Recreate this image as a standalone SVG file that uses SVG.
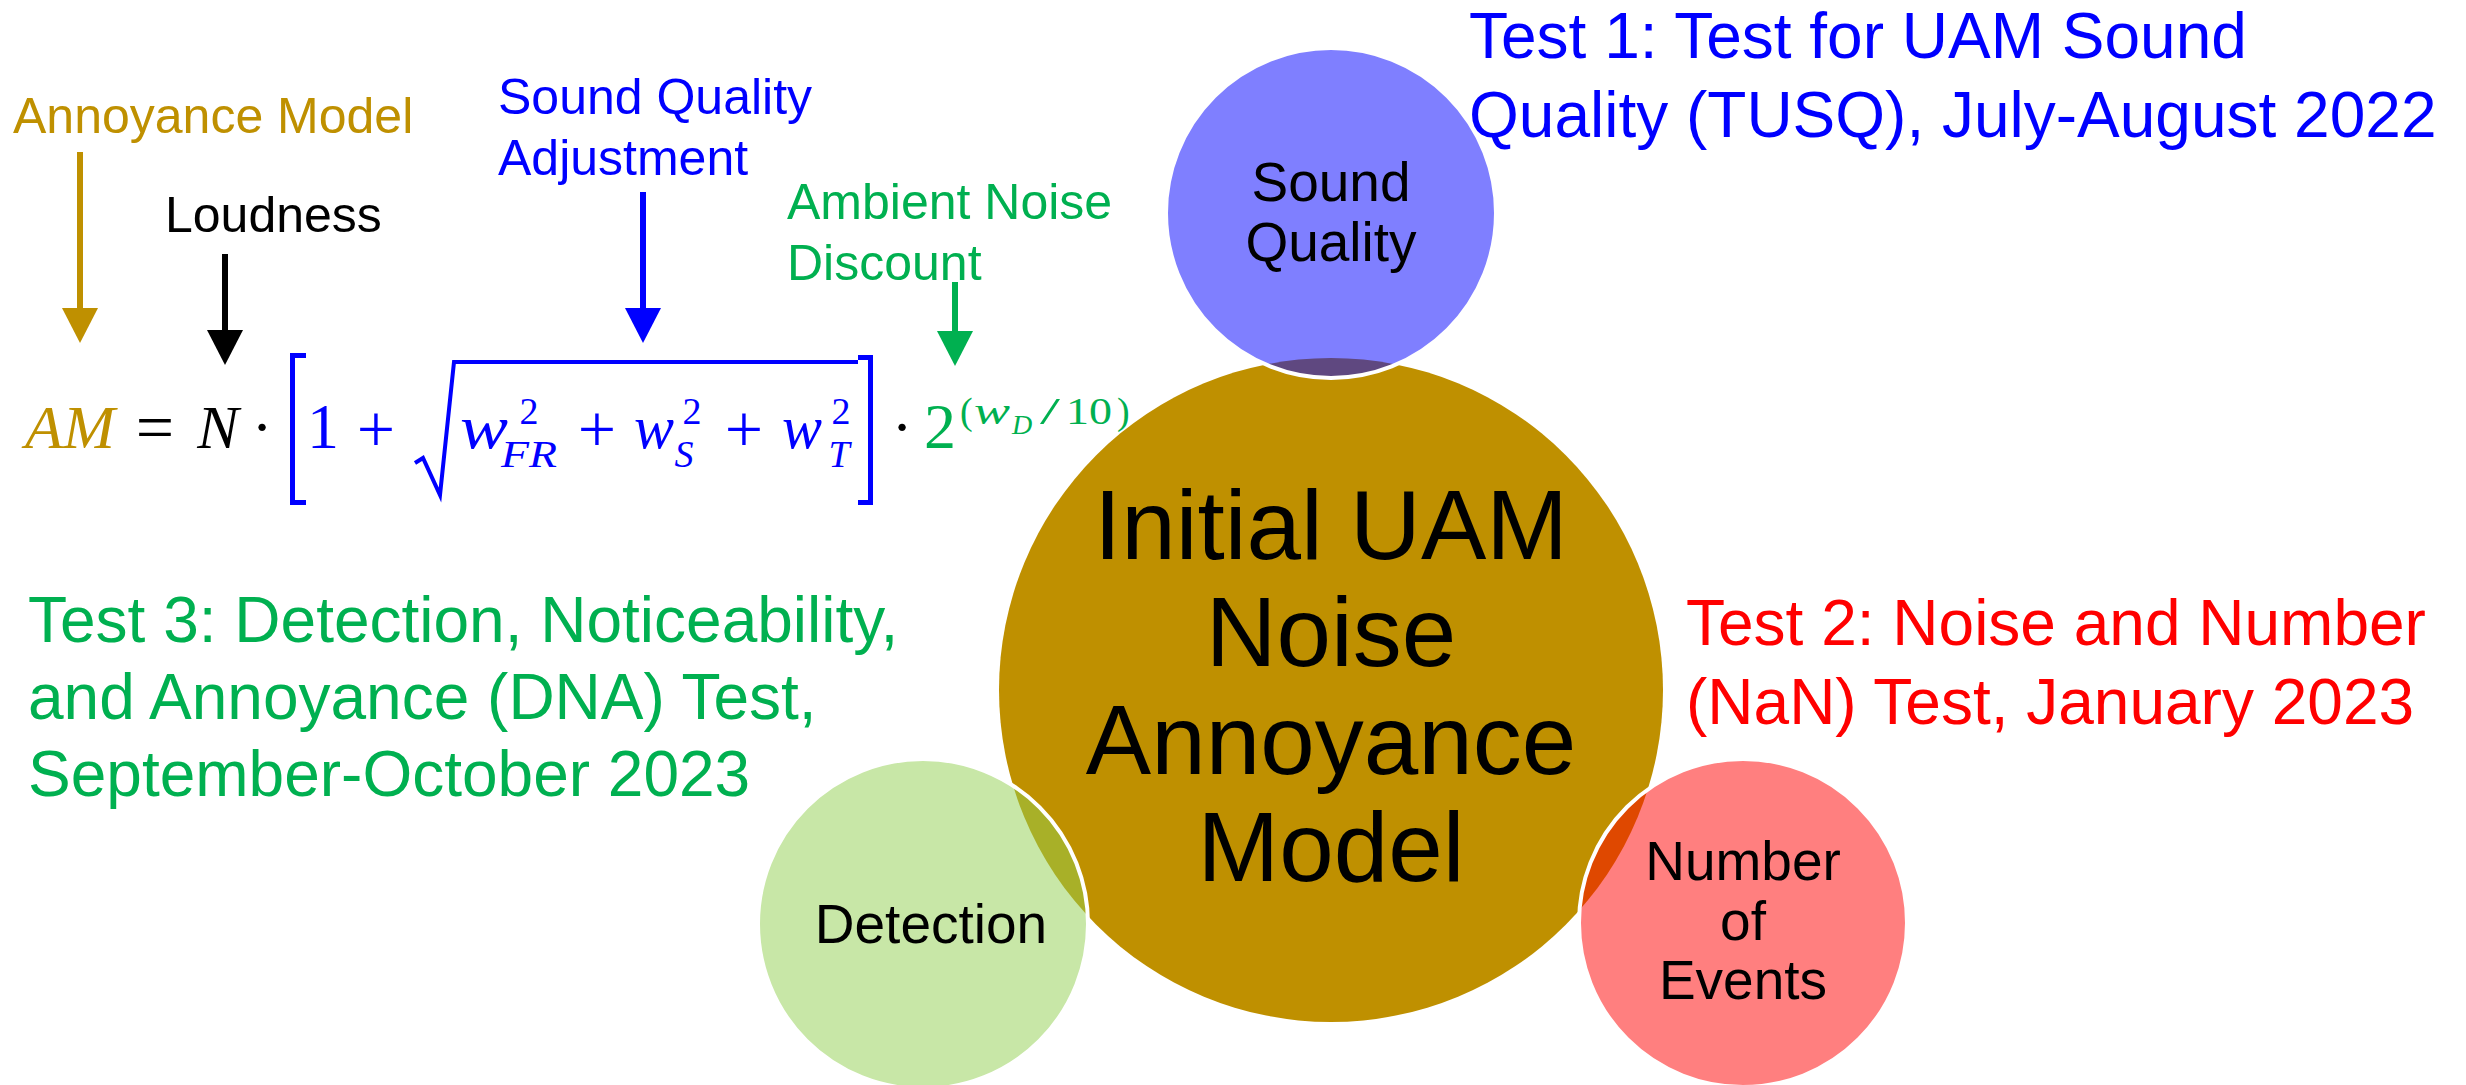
<svg xmlns="http://www.w3.org/2000/svg" width="2466" height="1085" viewBox="0 0 2466 1085">
<style>
.sans{font-family:"Liberation Sans",Arial,sans-serif}
.m{font-family:"Liberation Serif","Times New Roman",serif;font-size:62px}
.it{font-style:italic}
.sup{font-size:38px}
.big{font-size:98px}
.mid{font-size:55px}
.lab{font-size:50px}
.test{font-size:64px}
.c{text-anchor:middle}
.pl{font-size:68px}
.small{fill-opacity:0.5;stroke:#FFFFFF;stroke-width:4}
.conn{stroke-width:6;fill:none}
.brk{fill:none;stroke:#0000FF;stroke-width:5}
</style>
<defs>
<marker id="hGold" markerUnits="userSpaceOnUse" markerWidth="35" markerHeight="36" viewBox="0 0 35 36" refX="0" refY="18" orient="auto"><path d="M0,0 L35,18 L0,36 Z" fill="#BF9000"/></marker>
<marker id="hBlack" markerUnits="userSpaceOnUse" markerWidth="35" markerHeight="36" viewBox="0 0 35 36" refX="0" refY="18" orient="auto"><path d="M0,0 L35,18 L0,36 Z" fill="#000000"/></marker>
<marker id="hBlue" markerUnits="userSpaceOnUse" markerWidth="35" markerHeight="36" viewBox="0 0 35 36" refX="0" refY="18" orient="auto"><path d="M0,0 L35,18 L0,36 Z" fill="#0000FF"/></marker>
<marker id="hGreen" markerUnits="userSpaceOnUse" markerWidth="35" markerHeight="36" viewBox="0 0 35 36" refX="0" refY="18" orient="auto"><path d="M0,0 L35,18 L0,36 Z" fill="#00B050"/></marker>
</defs>
<rect width="2466" height="1085" fill="#FFFFFF"/>

<g id="main-model">
<circle cx="1331" cy="690" r="332" fill="#BF9000"/>
<text class="sans big c" fill="#000"><tspan x="1331" y="559">Initial UAM</tspan><tspan x="1331" y="666">Noise</tspan><tspan x="1331" y="774">Annoyance</tspan><tspan x="1331" y="881">Model</tspan></text>
</g>

<g id="sound-quality">
<circle class="small" cx="1331" cy="213" r="165" fill="#0000FF"/>
<text class="sans mid c" fill="#000"><tspan x="1331" y="201">Sound</tspan><tspan x="1331" y="261">Quality</tspan></text>
</g>

<g id="detection">
<circle class="small" cx="923" cy="924" r="165" fill="#92D050"/>
<text class="sans mid c" fill="#000" x="931" y="943">Detection</text>
</g>

<g id="number-of-events">
<circle class="small" cx="1743" cy="923" r="164" fill="#FF0000"/>
<text class="sans mid c" fill="#000"><tspan x="1743" y="880">Number</tspan><tspan x="1743" y="940">of</tspan><tspan x="1743" y="999">Events</tspan></text>
</g>

<g id="test1">
<text class="sans test" fill="#0000FF"><tspan x="1469" y="58">Test 1: Test for UAM Sound</tspan><tspan x="1469" y="137">Quality (TUSQ), July-August 2022</tspan></text>
</g>
<g id="test2">
<text class="sans test" fill="#FF0000"><tspan x="1686" y="645">Test 2: Noise and Number</tspan><tspan x="1686" y="724">(NaN) Test, January 2023</tspan></text>
</g>
<g id="test3">
<text class="sans test" fill="#00B050"><tspan x="28" y="642">Test 3: Detection, Noticeability,</tspan><tspan x="28" y="719">and Annoyance (DNA) Test,</tspan><tspan x="28" y="796">September-October 2023</tspan></text>
</g>

<g id="labels">
<text class="sans lab" fill="#BF9000" x="13" y="133">Annoyance Model</text>
<text class="sans lab" fill="#000000" x="165" y="232">Loudness</text>
<text class="sans lab" fill="#0000FF"><tspan x="498" y="114">Sound Quality</tspan><tspan x="498" y="175">Adjustment</tspan></text>
<text class="sans lab" fill="#00B050"><tspan x="787" y="219">Ambient Noise</tspan><tspan x="787" y="280">Discount</tspan></text>
</g>

<g id="connectors">
<line class="conn" x1="80" y1="152" x2="80" y2="308" stroke="#BF9000" marker-end="url(#hGold)"/>
<line class="conn" x1="225" y1="254" x2="225" y2="330" stroke="#000000" marker-end="url(#hBlack)"/>
<line class="conn" x1="643" y1="192" x2="643" y2="308" stroke="#0000FF" marker-end="url(#hBlue)"/>
<line class="conn" x1="955" y1="282" x2="955" y2="331" stroke="#00B050" marker-end="url(#hGreen)"/>
</g>

<g id="formula">
<text class="m it" fill="#BF9000" x="25" y="448" textLength="90" lengthAdjust="spacingAndGlyphs">AM</text>
<text class="m pl c" fill="#000" x="155" y="450">=</text>
<text class="m it c" fill="#000" x="218" y="448">N</text>
<text class="m c" fill="#000" x="262" y="448">·</text>
<path class="brk" d="M306,355.5 H292.5 V502.5 H306"/>
<text class="m c" fill="#0000FF" x="323" y="448" style="font-size:64px">1</text>
<text class="m pl c" fill="#0000FF" x="376" y="452">+</text>
<path d="M415,463 L423,458 L440,495 L454,362 H858" fill="none" stroke="#0000FF" stroke-width="4" stroke-linejoin="miter"/>
<text class="m it c" fill="#0000FF" x="484" y="448" textLength="48" lengthAdjust="spacingAndGlyphs">w</text>
<text class="m sup c" fill="#0000FF" x="529" y="424">2</text>
<text class="m sup it c" fill="#0000FF" x="529" y="467" textLength="56" lengthAdjust="spacingAndGlyphs">FR</text>
<text class="m pl c" fill="#0000FF" x="597" y="452">+</text>
<text class="m it c" fill="#0000FF" x="654" y="448" textLength="40" lengthAdjust="spacingAndGlyphs">w</text>
<text class="m sup c" fill="#0000FF" x="692" y="424">2</text>
<text class="m sup it c" fill="#0000FF" x="684" y="467">S</text>
<text class="m pl c" fill="#0000FF" x="744" y="452">+</text>
<text class="m it c" fill="#0000FF" x="802" y="448" textLength="40" lengthAdjust="spacingAndGlyphs">w</text>
<text class="m sup c" fill="#0000FF" x="841" y="424">2</text>
<text class="m sup it c" fill="#0000FF" x="839" y="467">T</text>
<path class="brk" d="M858,357.5 H870.5 V502.5 H858"/>
<text class="m c" fill="#000" x="902" y="448">·</text>
<text class="m c" fill="#00B050" x="940" y="448" style="font-size:64px">2</text>
<text class="m sup" fill="#00B050" x="960" y="424">(</text>
<text class="m sup it" fill="#00B050" x="974" y="424" textLength="36" lengthAdjust="spacingAndGlyphs">w</text>
<text class="m it" fill="#00B050" x="1012" y="434" style="font-size:28px">D</text>
<text class="m sup" fill="#00B050" x="1040" y="424" textLength="20" lengthAdjust="spacingAndGlyphs">/</text>
<text class="m sup" fill="#00B050" x="1066" y="424" textLength="46" lengthAdjust="spacingAndGlyphs">10</text>
<text class="m sup" fill="#00B050" x="1117" y="424">)</text>
</g>
</svg>
